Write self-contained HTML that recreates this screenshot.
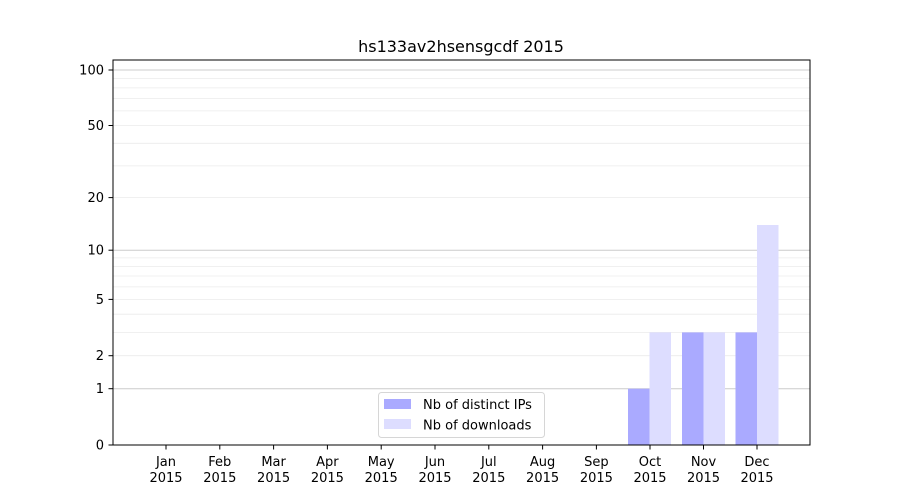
<!DOCTYPE html>
<html><head><meta charset="utf-8"><style>body{margin:0;background:#fff}svg{display:block}text{font-family:"DejaVu Sans","Liberation Sans",sans-serif;fill:#000}</style></head><body>
<svg width="900" height="500" xmlns="http://www.w3.org/2000/svg">
<rect width="900" height="500" fill="#fff"/>
<g stroke="#ebebeb" stroke-width="0.8">
<line x1="113" x2="810" y1="355.7" y2="355.7"/><line x1="113" x2="810" y1="332.4" y2="332.4"/><line x1="113" x2="810" y1="314.2" y2="314.2"/><line x1="113" x2="810" y1="299.4" y2="299.4"/><line x1="113" x2="810" y1="286.9" y2="286.9"/><line x1="113" x2="810" y1="276" y2="276"/><line x1="113" x2="810" y1="266.5" y2="266.5"/><line x1="113" x2="810" y1="257.9" y2="257.9"/>
<line x1="113" x2="810" y1="197.6" y2="197.6"/><line x1="113" x2="810" y1="165.9" y2="165.9"/><line x1="113" x2="810" y1="143.3" y2="143.3"/><line x1="113" x2="810" y1="125.5" y2="125.5"/><line x1="113" x2="810" y1="110.9" y2="110.9"/><line x1="113" x2="810" y1="98.6" y2="98.6"/><line x1="113" x2="810" y1="87.9" y2="87.9"/><line x1="113" x2="810" y1="78.5" y2="78.5"/>
</g>
<g stroke="#cccccc" stroke-width="1">
<line x1="113" x2="810" y1="388.7" y2="388.7"/><line x1="113" x2="810" y1="250.2" y2="250.2"/><line x1="113" x2="810" y1="70" y2="70"/>
</g>
<g fill="#aaaaff">
<rect x="628" y="388.7" width="21.5" height="56.3"/>
<rect x="682" y="332.4" width="21.5" height="112.6"/>
<rect x="735.5" y="332.4" width="21.5" height="112.6"/>
</g>
<g fill="#ddddff">
<rect x="649.5" y="332.4" width="21.5" height="112.6"/>
<rect x="703.5" y="332.4" width="21.5" height="112.6"/>
<rect x="757" y="225" width="21.5" height="220"/>
</g>
<rect x="113" y="60" width="697" height="385" fill="none" stroke="#000" stroke-width="1"/>
<g stroke="#000" stroke-width="1">
<line x1="108.5" x2="113" y1="445" y2="445"/><line x1="108.5" x2="113" y1="388.7" y2="388.7"/><line x1="108.5" x2="113" y1="355.7" y2="355.7"/><line x1="108.5" x2="113" y1="299.4" y2="299.4"/><line x1="108.5" x2="113" y1="250.2" y2="250.2"/><line x1="108.5" x2="113" y1="197.6" y2="197.6"/><line x1="108.5" x2="113" y1="125.5" y2="125.5"/><line x1="108.5" x2="113" y1="70" y2="70"/>
<line x1="166" x2="166" y1="445" y2="449.5"/><line x1="219.8" x2="219.8" y1="445" y2="449.5"/><line x1="273.6" x2="273.6" y1="445" y2="449.5"/><line x1="327.4" x2="327.4" y1="445" y2="449.5"/><line x1="381.2" x2="381.2" y1="445" y2="449.5"/><line x1="435" x2="435" y1="445" y2="449.5"/><line x1="488.8" x2="488.8" y1="445" y2="449.5"/><line x1="542.6" x2="542.6" y1="445" y2="449.5"/><line x1="596.4" x2="596.4" y1="445" y2="449.5"/><line x1="650" x2="650" y1="445" y2="449.5"/><line x1="703.5" x2="703.5" y1="445" y2="449.5"/><line x1="757" x2="757" y1="445" y2="449.5"/>
</g>
<g font-size="13" text-anchor="end">
<text x="104" y="449.5">0</text><text x="104" y="393.2">1</text><text x="104" y="360.2">2</text><text x="104" y="303.9">5</text><text x="104" y="254.7">10</text><text x="104" y="202.1">20</text><text x="104" y="130">50</text><text x="104" y="74.5">100</text>
</g>
<g font-size="13" text-anchor="middle">
<text x="166" y="466">Jan</text><text x="166" y="482">2015</text>
<text x="219.8" y="466">Feb</text><text x="219.8" y="482">2015</text>
<text x="273.6" y="466">Mar</text><text x="273.6" y="482">2015</text>
<text x="327.4" y="466">Apr</text><text x="327.4" y="482">2015</text>
<text x="381.2" y="466">May</text><text x="381.2" y="482">2015</text>
<text x="435" y="466">Jun</text><text x="435" y="482">2015</text>
<text x="488.8" y="466">Jul</text><text x="488.8" y="482">2015</text>
<text x="542.6" y="466">Aug</text><text x="542.6" y="482">2015</text>
<text x="596.4" y="466">Sep</text><text x="596.4" y="482">2015</text>
<text x="650" y="466">Oct</text><text x="650" y="482">2015</text>
<text x="703.5" y="466">Nov</text><text x="703.5" y="482">2015</text>
<text x="757" y="466">Dec</text><text x="757" y="482">2015</text>
</g>
<text x="461" y="52" font-size="16" text-anchor="middle">hs133av2hsensgcdf 2015</text>
<rect x="378.5" y="392.5" width="166" height="45" rx="3" fill="#fff" fill-opacity="0.8" stroke="#d6d6d6"/>
<rect x="384" y="399" width="27" height="10" fill="#aaaaff"/>
<rect x="384" y="419" width="27" height="10" fill="#ddddff"/>
<text x="423" y="409" font-size="13">Nb of distinct IPs</text>
<text x="423" y="429.5" font-size="13">Nb of downloads</text>
</svg>
</body></html>
